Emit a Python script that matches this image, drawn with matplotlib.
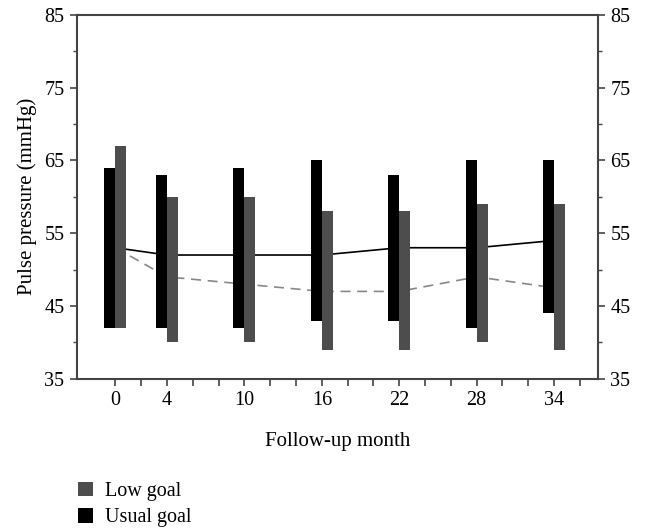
import matplotlib
matplotlib.use("Agg")
import matplotlib.pyplot as plt
from matplotlib.patches import Patch
import numpy as np

plt.rcParams['font.family'] = ['Liberation Serif', 'DejaVu Serif']

months = [0, 4, 10, 16, 22, 28, 34]
usual_low = [42, 42, 42, 43, 43, 42, 44]
usual_high = [64, 63, 64, 65, 63, 65, 65]
lowgoal_low = [42, 40, 40, 39, 39, 40, 39]
lowgoal_high = [67, 60, 60, 58, 58, 59, 59]
usual_line = [53, 52, 52, 52, 53, 53, 54]
lowgoal_line = [53, 49, 48, 47, 47, 49, 47.5]
xtick_labels = ['0', '4', '10', '16', '22', '28', '34']

fig = plt.figure(figsize=(6.45, 5.29), dpi=100)
ax = fig.add_axes([0.119, 0.284, 0.808, 0.688])

w = 0.85
m = np.array(months, dtype=float)
ax.plot(m, usual_line, color='black', lw=1.2, zorder=1)
ax.plot(m, lowgoal_line, color='#888888', lw=1.2, ls=(0, (6, 4)), zorder=1)
ax.bar(m - w / 2, np.array(usual_high) - np.array(usual_low), bottom=usual_low,
       width=w, color='black', zorder=2)
ax.bar(m + w / 2, np.array(lowgoal_high) - np.array(lowgoal_low), bottom=lowgoal_low,
       width=w, color='#4d4d4d', zorder=2)

ax.set_xlim(-3, 37.4)
ax.set_ylim(35, 85)
xt = np.arange(0, 37, 2)
ax.set_xticks(xt)
ax.set_xticklabels([str(int(v)) if str(int(v)) in xtick_labels else '' for v in xt])
ax.set_yticks([35, 45, 55, 65, 75, 85])
ax.set_yticks([40, 50, 60, 70, 80], minor=True)
ax.tick_params(axis='both', which='major', direction='out', length=5, width=1.2,
               color='#444444', labelsize=14.5, right=True, labelright=True, pad=4)
ax.tick_params(axis='y', which='minor', direction='out', length=3, width=1.0,
               color='#444444', right=True)
for s in ax.spines.values():
    s.set_color('#444444')
    s.set_linewidth(1.5)

ax.set_xlabel('Follow-up month', fontsize=15, labelpad=16)
ax.set_ylabel('Pulse pressure (mmHg)', fontsize=15, labelpad=5)

handles = [Patch(facecolor='#4d4d4d', edgecolor='none', label='Low goal'),
           Patch(facecolor='black', edgecolor='none', label='Usual goal')]
fig.legend(handles=handles, loc='upper left', bbox_to_anchor=(0.108, 0.105),
           frameon=False, fontsize=14.5, handlelength=0.75, handleheight=0.75,
           handletextpad=0.6, labelspacing=0.35, borderaxespad=0)

fig.savefig('out.png', dpi=100)
